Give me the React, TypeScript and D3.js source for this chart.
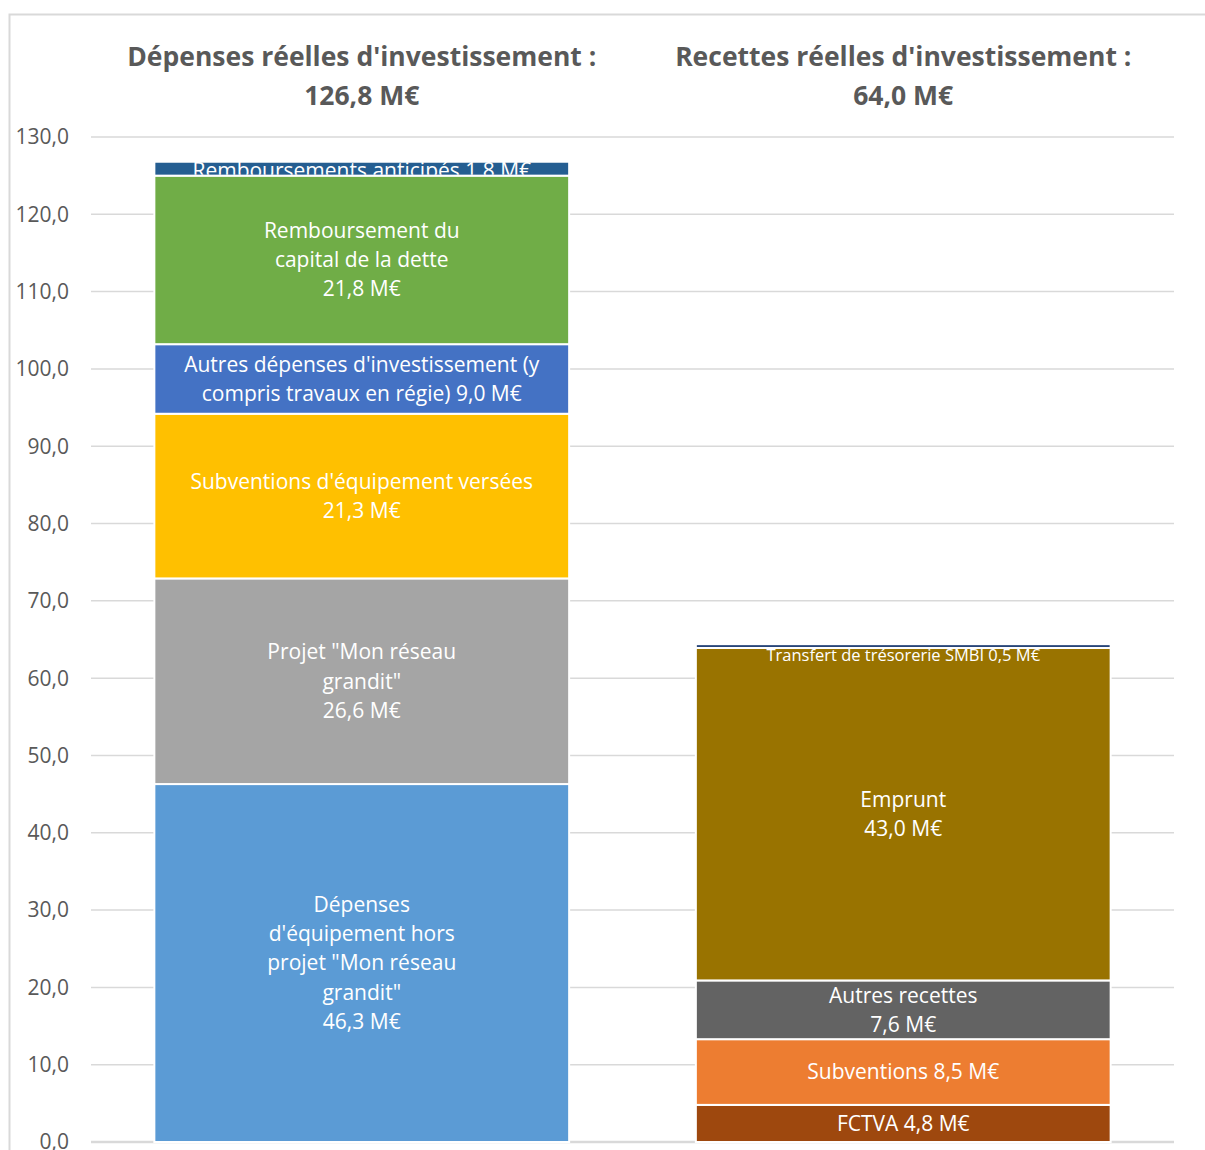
import * as d3 from 'd3'

// values (M€), bottom to top
const depLabels = [
  ['Dépenses', "d'équipement hors", 'projet "Mon réseau', 'grandit"', '46,3 M€'],
  ['Projet "Mon réseau', 'grandit"', '26,6 M€'],
  ["Subventions d'équipement versées", '21,3 M€'],
  ["Autres dépenses d'investissement (y", 'compris travaux en régie) 9,0 M€'],
  ['Remboursement du', 'capital de la dette', '21,8 M€'],
  ['Remboursements anticipés 1,8 M€'],
]
const depValues = [46.3, 26.6, 21.3, 9.0, 21.8, 1.8]
const depColors = ['#5B9BD5', '#A5A5A5', '#FFC000', '#4472C4', '#70AD47', '#255E91']

const recLabels = [
  ['FCTVA 4,8 M€'],
  ['Subventions 8,5 M€'],
  ['Autres recettes', '7,6 M€'],
  ['Emprunt', '43,0 M€'],
  ['Transfert de trésorerie SMBI 0,5 M€'],
]
const recValues = [4.8, 8.5, 7.6, 43.0, 0.5]
const recColors = ['#9E480E', '#ED7D31', '#636363', '#997300', '#264478']

const categories = ['depenses', 'recettes']
const titles = [
  ["Dépenses réelles d'investissement :", '126,8 M€'],
  ["Recettes réelles d'investissement :", '64,0 M€'],
]
const yTicks = [0, 10, 20, 30, 40, 50, 60, 70, 80, 90, 100, 110, 120, 130]

const W = 1205
const H = 1150
const M = { top: 137, bottom: 8, left: 91, right: 31 }
const FONT = "'Open Sans', sans-serif"
const GRID = '#D9D9D9'
const TXT = '#595959'

export default function App() {
  const y = d3.scaleLinear().domain([0, 130]).range([H - M.bottom, M.top])
  const x = d3.scaleBand().domain(categories).range([M.left, W - M.right]).paddingInner(0.234).paddingOuter(0.117)
  const fmt = (v: number) => d3.format('.1f')(v).replace('.', ',')

  const stacks = [
    { values: depValues, colors: depColors, labels: depLabels },
    { values: recValues, colors: recColors, labels: recLabels },
  ]

  return (
    <svg width={W} height={H} style={{ position: 'absolute', left: 0, top: 0, background: '#fff' }} fontFamily={FONT}>
      {/* chart frame, cut off on the right and bottom */}
      <path d={`M${W},14.5 H9.5 V${H}`} fill="none" stroke={GRID} strokeWidth={2} />

      {yTicks.map(t => (
        <g key={t}>
          <line x1={M.left} x2={W - M.right} y1={y(t)} y2={y(t)} stroke={GRID} strokeWidth={t === 0 ? 2.5 : 1.5} />
          <text x={69} y={y(t)} dy="0.35em" textAnchor="end" fontSize={21} fill={TXT}>{fmt(t)}</text>
        </g>
      ))}

      {stacks.map((s, i) => {
        const cx = x(categories[i])! + x.bandwidth() / 2
        const cum = d3.cumsum(s.values)
        return (
          <g key={categories[i]}>
            {s.values.map((v, j) => {
              const y0 = y(cum[j] - v)
              const y1 = y(cum[j])
              return (
                <rect key={j} x={x(categories[i])} y={y1} width={x.bandwidth()} height={y0 - y1}
                  fill={s.colors[j]} stroke="#fff" strokeWidth={2} />
              )
            })}
            {s.values.map((v, j) => {
              const lines = s.labels[j]
              const small = v < 1
              const fs = small ? 16.5 : 21
              const lh = 29.2
              let mid = y(cum[j] - v / 2)
              if (small) mid += 9
              else if (v < 2) mid += 1.5
              const top = mid - ((lines.length - 1) * lh) / 2
              const clip = j === s.values.length - 1 && !small ? `clip-${i}` : undefined
              return (
                <g key={'l' + j} clipPath={clip ? `url(#${clip})` : undefined}>
                  {clip && (
                    <clipPath id={clip}>
                      <rect x={0} y={0} width={W} height={y(cum[j] - v) - 1} />
                    </clipPath>
                  )}
                  <text textAnchor="middle" fill="#fff" fontSize={fs}>
                    {lines.map((l, k) => (
                      <tspan key={k} x={cx} y={top + k * lh} dy="0.35em">{l}</tspan>
                    ))}
                  </text>
                </g>
              )
            })}
            <text textAnchor="middle" fill={TXT} fontSize={26.5} fontWeight="bold">
              {titles[i].map((l, k) => (
                <tspan key={k} x={cx} y={57 + k * 39} dy="0.35em">{l}</tspan>
              ))}
            </text>
          </g>
        )
      })}
    </svg>
  )
}
